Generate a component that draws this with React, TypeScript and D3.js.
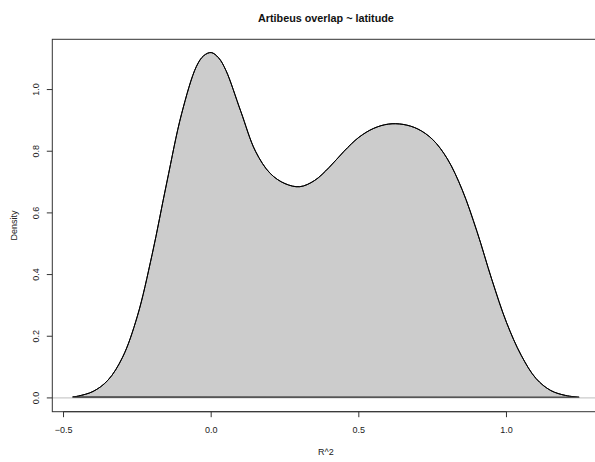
import React from "react";
import * as d3 from "d3";

// Kernel density estimate of R^2 values (Artibeus overlap ~ latitude)
const rSquared = [
  -0.469, -0.45, -0.4, -0.35, -0.3, -0.25, -0.2, -0.15, -0.1, -0.05,
  -0.025, 0.0, 0.025, 0.05, 0.1, 0.15, 0.2, 0.25, 0.3, 0.35, 0.4, 0.45,
  0.5, 0.55, 0.6, 0.65, 0.7, 0.75, 0.8, 0.85, 0.9, 0.95,
  1.0, 1.05, 1.1, 1.15, 1.2, 1.246,
];
const density = [
  0.003, 0.006, 0.021, 0.057, 0.132, 0.265, 0.465, 0.7, 0.922, 1.075,
  1.11, 1.12, 1.103, 1.062, 0.93, 0.8, 0.728, 0.695, 0.685, 0.705, 0.748, 0.8,
  0.845, 0.874, 0.888, 0.887, 0.872, 0.838, 0.775, 0.675, 0.54, 0.385,
  0.245, 0.138, 0.063, 0.024, 0.008, 0.002,
];
const xTicks = [-0.5, 0, 0.5, 1.0];
const yTicks = [0, 0.2, 0.4, 0.6, 0.8, 1.0];

const title = "Artibeus overlap ~ latitude";
const xLabel = "R^2";
const yLabel = "Density";

const W = 595;
const H = 462;
const box = { left: 52.3, right: 599.5, top: 39.3, bottom: 411.7 };
const font = "'Liberation Sans', Arial, Helvetica, sans-serif";

export default function App() {
  const xs = d3.scaleLinear().domain([-0.538, 1.315]).range([box.left, box.right]);
  const ys = d3.scaleLinear().domain([-0.0447, 1.163]).range([box.bottom, box.top]);

  const pts: [number, number][] = rSquared.map((r, i) => [r, density[i]]);
  const line = d3
    .line<[number, number]>()
    .x((d) => xs(d[0]))
    .y((d) => ys(d[1]))
    .curve(d3.curveCatmullRom.alpha(0.5));
  const curvePath = line(pts) as string;
  const polyPath = curvePath + "Z";

  const fmt = d3.format(".1f");
  const fmtX = (v: number) => (v < 0 ? "\u2212" + fmt(-v) : fmt(v));

  return (
    <svg
      width={W}
      height={H}
      style={{ position: "fixed", left: 0, top: 0, background: "#fff" }}
      fontFamily={font}
    >
      <defs>
        <clipPath id="plotClip">
          <rect x={box.left} y={box.top} width={box.right - box.left} height={box.bottom - box.top} />
        </clipPath>
      </defs>
      <g clipPath="url(#plotClip)">
        <path d={polyPath} fill="#cccccc" stroke="#000" strokeWidth={1} />
        <line x1={box.left} x2={box.right} y1={ys(0)} y2={ys(0)} stroke="#bebebe" strokeWidth={1} />
        <path d={curvePath} fill="none" stroke="#000" strokeWidth={1} />
        <line
          x1={xs(rSquared[0])}
          x2={xs(rSquared[rSquared.length - 1])}
          y1={ys(0.002)}
          y2={ys(0.002)}
          stroke="#555"
          strokeWidth={1.2}
        />
      </g>
      <rect
        x={box.left}
        y={box.top}
        width={box.right - box.left}
        height={box.bottom - box.top}
        fill="none"
        stroke="#333"
        strokeWidth={1}
      />
      {/* x axis */}
      <line x1={xs(xTicks[0])} x2={xs(xTicks[xTicks.length - 1])} y1={box.bottom} y2={box.bottom} stroke="#333" />
      {xTicks.map((t) => (
        <g key={"x" + t}>
          <line x1={xs(t)} x2={xs(t)} y1={box.bottom} y2={box.bottom + 5.5} stroke="#333" />
          <text x={xs(t)} y={432.7} fontSize={9} textAnchor="middle" fill="#222">
            {fmtX(t)}
          </text>
        </g>
      ))}
      {/* y axis */}
      {yTicks.map((t) => (
        <g key={"y" + t}>
          <line x1={box.left} x2={box.left - 5.5} y1={ys(t)} y2={ys(t)} stroke="#333" />
          <text
            transform={`translate(39,${ys(t)}) rotate(-90)`}
            fontSize={9}
            textAnchor="middle"
            fill="#222"
          >
            {fmt(t)}
          </text>
        </g>
      ))}
      <text x={(box.left + box.right) / 2} y={455} fontSize={9} textAnchor="middle" fill="#222">
        {xLabel}
      </text>
      <text
        transform={`translate(17,${(box.top + box.bottom) / 2}) rotate(-90)`}
        fontSize={9}
        textAnchor="middle"
        fill="#222"
      >
        {yLabel}
      </text>
      <text
        x={(box.left + box.right) / 2}
        y={21.7}
        fontSize={10.8}
        fontWeight="bold"
        textAnchor="middle"
        fill="#111"
      >
        {title}
      </text>
    </svg>
  );
}
